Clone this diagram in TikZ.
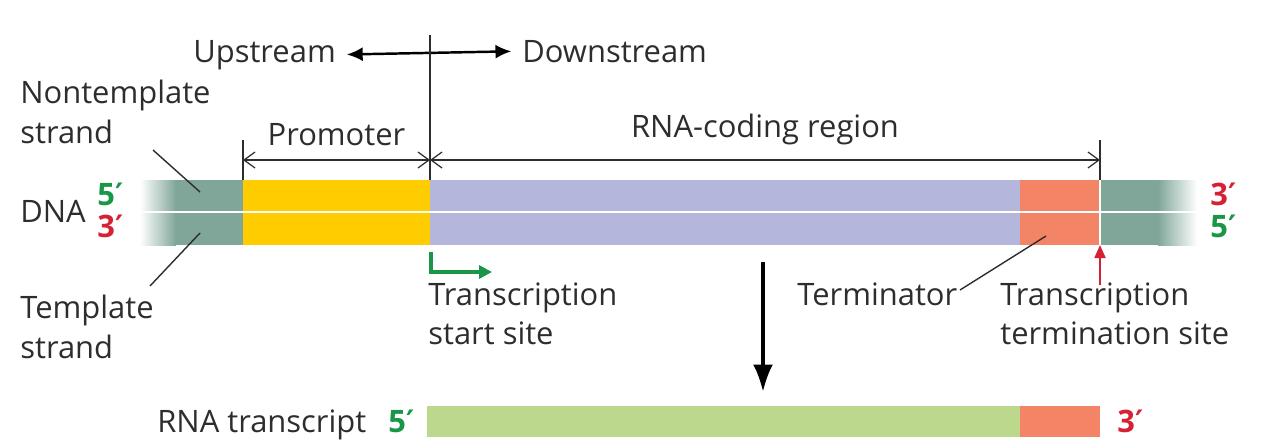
\documentclass[tikz,border=0pt]{standalone}
\usepackage{fontspec}
\setmainfont{Open Sans}
\newfontfamily\primefont{DejaVu Sans}
\newcommand\pr{{\primefont\char"2032}}
\usepackage{xcolor}
\definecolor{dnTeal}{RGB}{128,166,154}
\definecolor{dnYellow}{RGB}{255,204,0}
\definecolor{dnLav}{RGB}{180,182,220}
\definecolor{dnSalmon}{RGB}{243,133,102}
\definecolor{dnRNA}{RGB}{188,216,140}
\definecolor{dnGreen}{RGB}{26,150,72}
\definecolor{dnRed}{RGB}{214,32,52}
\definecolor{dnInk}{RGB}{45,45,45}
\usepackage{tikz}
\usetikzlibrary{positioning,arrows.meta,fit}
\tikzset{
  dn-lbl/.style={font=\fontsize{17.6}{22.5}\selectfont,text=dnInk,inner sep=0pt,align=left},
  dn-five/.style={font=\fontsize{17.6}{22.5}\selectfont\bfseries,text=dnGreen,inner sep=0pt},
  dn-three/.style={font=\fontsize{17.6}{22.5}\selectfont\bfseries,text=dnRed,inner sep=0pt},
  dn-seg/.style={inner sep=0pt,outer sep=0pt,draw=none},
  dn-lead/.style={dnInk,line width=0.8pt},
  dn-dim/.style={{Straight Barb[length=2.2mm,width=3.2mm]}-{Straight Barb[length=2.2mm,width=3.2mm]},dnInk,line width=0.7pt},
  dn-ud/.style={{Latex[length=3.2mm,width=2.8mm]}-{Latex[length=3.2mm,width=2.8mm]},black,line width=1.4pt},
  dn-tss/.style={-{Triangle[length=2.6mm,width=2.6mm]},dnGreen,line width=2pt},
  dn-stop/.style={-{Triangle[length=2.6mm,width=2.2mm]},dnRed,line width=1pt},
  dn-down/.style={-{Latex[length=5.5mm,width=4mm]},black,line width=2.2pt},
}

\begin{document}
\begin{tikzpicture}[x=0.02cm,y=-0.02cm]
  \useasboundingbox (0,0) rectangle (1278,444);

  % DNA bar
  \shade[left color=white,right color=dnTeal] (140,180) rectangle (176,245);
  \node[dn-seg,fill=dnTeal,fit={(175,180) (243,245)}] (flankL) {};
  \node[dn-seg,fill=dnYellow,fit={(243,180) (430,245)}] (prom) {};
  \node[dn-seg,fill=dnLav,fit={(430,180) (1020,245)}] (code) {};
  \node[dn-seg,fill=dnSalmon,fit={(1020,180) (1100,245)}] (term) {};
  \node[dn-seg,fill=dnTeal,fit={(1100,180) (1159,245)}] (flankR) {};
  \shade[left color=dnTeal,right color=white] (1158,180) rectangle (1197,245);
  \draw[white,line width=1.6pt] (140,212) -- (1197,212);
  \draw[white,line width=0.9pt] (term.north east) -- (term.south east);

  % strand ends
  \node[dn-lbl,anchor=base west] (dna) at (20,222) {DNA};
  \node[dn-five,anchor=base west] (l5) at (97,205) {5\pr};
  \node[dn-three,anchor=base west] (l3) at (97,237) {3\pr};
  \node[dn-three,anchor=base west] (r3) at (1210,205) {3\pr};
  \node[dn-five,anchor=base west] (r5) at (1210,237) {5\pr};

  % strand labels
  \node[dn-lbl,anchor=north west] (ntpl) at (20,80) {Nontemplate\\strand};
  \node[dn-lbl,anchor=north west] (tpl) at (20,295) {Template\\strand};
  \coordinate (ntplA) at (153,150);
  \coordinate (ntplB) at (200,192);
  \coordinate (tplA) at (150,286);
  \coordinate (tplB) at (200,233);
  \draw[dn-lead] (ntplA) -- (ntplB);
  \draw[dn-lead] (tplA) -- (tplB);

  % upstream / downstream
  \node[dn-lbl,anchor=base west] (up) at (193,62) {Upstream};
  \node[dn-lbl,anchor=base west] (down) at (522,62) {Downstream};
  \draw[dn-ud,shorten <=6pt,shorten >=6pt] (up.east) -- (down.west);
  \coordinate (mark) at (430,35);
  \draw[dn-lead] (mark) -- (code.north west);

  % dimensions
  \coordinate (tickL) at (243,140);
  \coordinate (tickR) at (1100,140);
  \draw[dn-lead] (tickL) -- (prom.north west);
  \draw[dn-lead] (tickR) -- (term.north east);
  \draw[dn-dim] (243,160) -- node[dn-lbl,above=8pt] (promLbl) {Promoter} (430,160);
  \draw[dn-dim] (430,160) -- node[dn-lbl,above=8pt] (codeLbl) {RNA-coding region} (1100,160);

  % sites
  \coordinate (tssA) at (431,252);
  \coordinate (tssB) at (492,272);
  \draw[dn-tss] (tssA) |- (tssB);
  \node[dn-lbl,anchor=north west] (tss) at (428,282) {Transcription\\start site};
  \coordinate (stopA) at (1100,285);
  \draw[dn-stop] (stopA) -- (term.south east);
  \node[dn-lbl,anchor=north west] (tts) at (1000,282) {Transcription\\termination site};
  \node[dn-lbl,anchor=base west] (termLbl) at (797,305) {Terminator};
  \coordinate (termA) at (960,290);
  \coordinate (termB) at (1046,236);
  \draw[dn-lead] (termA) -- (termB);

  % transcription
  \coordinate (txA) at (763,262);
  \coordinate (txB) at (763,392);
  \draw[dn-down] (txA) -- (txB);

  % RNA transcript
  \node[dn-seg,fill=dnRNA,fit={(427,406) (1020,437)}] (rna) {};
  \node[dn-seg,fill=dnSalmon,fit={(1020,406) (1100,437)}] (rnaT) {};
  \node[dn-lbl,anchor=base west] (rnaLbl) at (157,432) {RNA transcript};
  \node[dn-five,anchor=base west] (rna5) at (388,432) {5\pr};
  \node[dn-three,anchor=base west] (rna3) at (1117,432) {3\pr};
\end{tikzpicture}
\end{document}
